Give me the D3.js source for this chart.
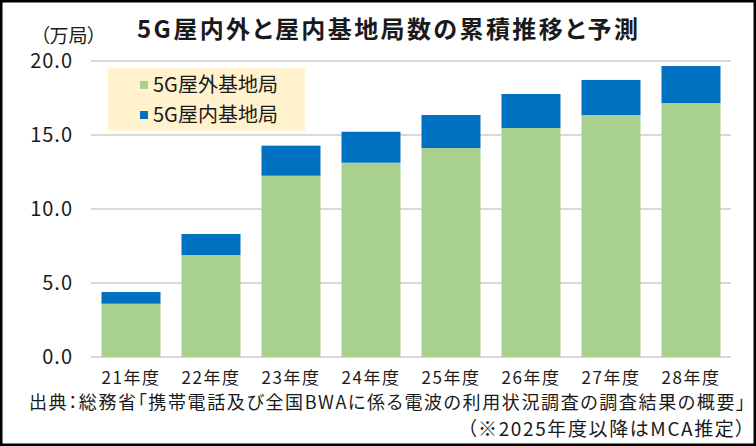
<!DOCTYPE html>
<html><head><meta charset="utf-8">
<script src="https://cdn.jsdelivr.net/npm/d3@7"></script>
<style>
html,body{margin:0;padding:0;background:#fff;}
svg{display:block;}
text{font-family:"Noto Sans CJK JP","Noto Sans",sans-serif;fill:#1a1a1a;font-feature-settings:"palt";}
</style></head>
<body>
<svg id="chart" width="756" height="446"></svg>
<script>
const categories = ["21年度","22年度","23年度","24年度","25年度","26年度","27年度","28年度"];
const outdoor = [3.6, 6.89, 12.25, 13.13, 14.12, 15.47, 16.35, 17.16];
const indoor  = [0.79, 1.42, 2.03, 2.09, 2.23, 2.30, 2.37, 2.50];
const yTicks = [0, 5, 10, 15, 20];
const seriesNames = ["5G屋外基地局","5G屋内基地局"];
const colors = ["#a9d18e","#0070c0"];

const svg = d3.select("#chart");
svg.append("rect").attr("x",1.25).attr("y",1.25).attr("width",753.5).attr("height",443.5)
  .attr("fill","#fff").attr("stroke","#000").attr("stroke-width",2.5);

const x = d3.scaleBand().domain(categories).range([91,731]).paddingInner(0.2625).paddingOuter(0.13125);
const y = d3.scaleLinear().domain([0,20]).range([357,61]);

// gridlines
svg.append("g").selectAll("line").data(yTicks).join("line")
  .attr("x1",91).attr("x2",731).attr("y1",d=>y(d)).attr("y2",d=>y(d))
  .attr("stroke","#d9d9d9").attr("stroke-width",2);

// y axis labels
const yAxis = d3.axisLeft(y).tickValues(yTicks).tickFormat(d3.format(".1f")).tickSize(0).tickPadding(0);
const gy = svg.append("g").attr("transform","translate(73,0)").call(yAxis);
gy.select(".domain").remove();
gy.selectAll("text").attr("font-size",20).attr("fill","#1a1a1a").attr("letter-spacing","1px")
  .style("font-family",'"Noto Sans CJK JP",sans-serif');

// stacked data
const rows = categories.map((c,i)=>({cat:c, outdoor:outdoor[i], indoor:indoor[i]}));
const stack = d3.stack().keys(["outdoor","indoor"])(rows);
svg.append("g").selectAll("g").data(stack).join("g").attr("fill",(d,i)=>colors[i])
  .selectAll("rect").data(d=>d).join("rect")
  .attr("x",d=>x(d.data.cat)).attr("width",x.bandwidth())
  .attr("y",d=>y(d[1])).attr("height",d=>y(d[0])-y(d[1]));

// x axis labels
const xAxis = d3.axisBottom(x).tickSize(0).tickPadding(0);
const gx = svg.append("g").attr("transform","translate(0,384)").call(xAxis);
gx.select(".domain").remove();
gx.selectAll("text").attr("dy",0).attr("y",0).attr("font-size",17).attr("letter-spacing","1.5px")
  .attr("fill","#1a1a1a").style("font-family",'"Noto Sans CJK JP",sans-serif');

// legend
svg.append("rect").attr("x",108).attr("y",68).attr("width",197).attr("height",63).attr("fill","#fff2cc");
const lg = svg.append("g").selectAll("g").data(seriesNames).join("g")
  .attr("transform",(d,i)=>`translate(140,${85+i*30})`);
lg.append("rect").attr("x",0).attr("y",-4).attr("width",8).attr("height",8).attr("fill",(d,i)=>colors[i]);
lg.append("text").attr("x",13).attr("y",7).attr("font-size",20).text(d=>d);

// title
svg.append("text").attr("x",137).attr("y",38).attr("font-size",24).attr("font-weight","bold")
  .attr("textLength",501).attr("lengthAdjust","spacing").attr("fill","#000")
  .text("5G屋内外と屋内基地局数の累積推移と予測");

// unit
svg.append("text").attr("x",97).attr("y",43).attr("text-anchor","end").attr("font-size",19).text("（万局）");

// source
svg.append("text").attr("x",29).attr("y",409).attr("font-size",18)
  .attr("textLength",716).attr("lengthAdjust","spacing")
  .text("出典：総務省「携帯電話及び全国BWAに係る電波の利用状況調査の調査結果の概要」");
svg.append("text").attr("x",467).attr("y",436).attr("font-size",19)
  .attr("textLength",278).attr("lengthAdjust","spacing")
  .text("（※2025年度以降はMCA推定）");
</script>
</body></html>
